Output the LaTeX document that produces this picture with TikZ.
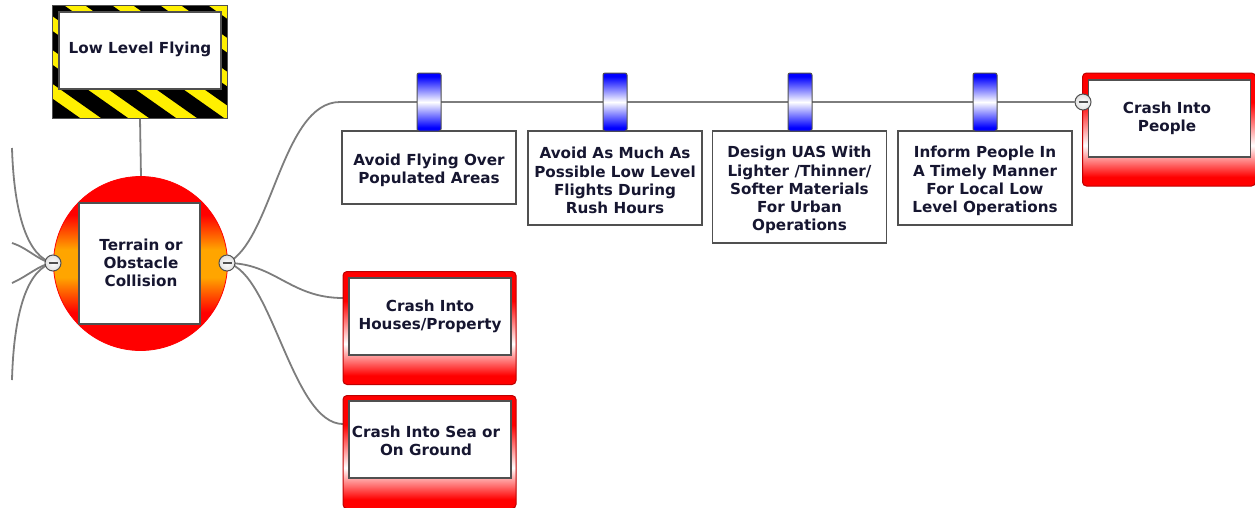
\documentclass[tikz,border=0pt]{standalone}
\usepackage{fontspec}
\setmainfont{DejaVu Sans}
\definecolor{ink}{RGB}{22,22,48}
\definecolor{wire}{RGB}{125,125,125}
\definecolor{rim}{RGB}{80,80,80}
\definecolor{hazyellow}{RGB}{255,240,0}
\definecolor{deepred}{RGB}{190,0,0}
\definecolor{amber}{RGB}{255,165,0}
\pgfdeclareverticalshading{redcard}{100bp}{color(0bp)=(red); color(29bp)=(red); color(43bp)=(white); color(62bp)=(red); color(100bp)=(red)}
\pgfdeclareverticalshading{hubdisc}{100bp}{color(0bp)=(red); color(36bp)=(red); color(46bp)=(amber); color(54bp)=(amber); color(64bp)=(red); color(100bp)=(red)}
\pgfdeclareverticalshading{bluetab}{100bp}{color(0bp)=(blue); color(28bp)=(blue); color(50bp)=(white); color(72bp)=(blue); color(100bp)=(blue)}
\tikzset{
  txt/.style={font=\bfseries\fontsize{15.2}{18.2}\selectfont, text=ink, align=center},
  link/.style={draw=wire, line width=1.8pt},
  plainbox/.style={draw=rim, line width=1.2pt, fill=white, inner sep=0pt, minimum width=174pt},
  cardout/.style={draw=deepred, line width=1pt, rounded corners=4pt, shading=redcard, inner sep=0pt, minimum width=173pt, minimum height=113pt},
  cardin/.style={draw=rim, line width=1.1pt, fill=white, inner sep=0pt, minimum width=162pt, minimum height=77pt},
  tab/.style={draw=rim, line width=1pt, rounded corners=2pt, shading=bluetab, inner sep=0pt, minimum width=24pt, minimum height=58pt},
  toggle/.style={circle, draw=rim, line width=1pt, inner color=white, outer color=black!12, minimum size=16pt, inner sep=0pt,
    path picture={\draw[rim, line width=1.3pt] ([xshift=-4.5pt]path picture bounding box.center) -- ([xshift=4.5pt]path picture bounding box.center);}},
}
\begin{document}
\begin{tikzpicture}[x=1pt,y=-1pt]
\useasboundingbox (0,0) rectangle (1255,507);

% hazard-striped title sign
\node[draw=rim, line width=1pt, minimum width=174pt, minimum height=112pt, inner sep=0pt] (sign) at (140,62) {};
\begin{scope}
  \clip (sign.south west) rectangle (sign.north east);
  \fill[hazyellow] (sign.south west) rectangle (sign.north east);
  \foreach \k in {-5,...,3}{
    \fill[black] (86+48*\k,6) -- (113+48*\k,6) -- (113+48*\k+159,118) -- (86+48*\k+159,118) -- cycle;
  }
\end{scope}
\draw[rim, line width=1pt] (sign.south west) rectangle (sign.north east);
\node[plainbox, minimum width=162pt, minimum height=77pt] (signface) at (140,50.5) {};
\node[txt] (signtext) at (140,49.5) {Low Level Flying};

% central hazard
\coordinate (hubtop) at (141,177);
\draw[link] (sign.south) -- (hubtop);

% free ends of the branches leaving the picture on the left
\coordinate (l1) at (12,148);
\coordinate (l2) at (12,243);
\coordinate (l3) at (12,283);
\coordinate (l4) at (12,380);
\coordinate (bLc) at (53,263);
\coordinate (bRc) at (227,263);
\draw[link] (l1) .. controls (14,215) and (28,257) .. (bLc);
\draw[link] (l2) .. controls (28,248) and (40,262) .. (bLc);
\draw[link] (l3) .. controls (28,276) and (40,264) .. (bLc);
\draw[link] (l4) .. controls (14,305) and (30,268) .. (bLc);

% right-hand branches
\coordinate (bend) at (340,102);
\draw[link] (bRc) .. controls (272,242) and (282,102) .. (bend);
\draw[link] (bRc) .. controls (275,263) and (290,298) .. (343,298);
\draw[link] (bRc) .. controls (272,272) and (292,424) .. (343,424);

\node[circle, draw=red, line width=0.8pt, shading=hubdisc, minimum size=174pt, inner sep=0pt] (hub) at (140.5,263.5) {};
\node[plainbox, minimum width=121pt, minimum height=121pt] (hubface) at (139.5,263.5) {};
\node[txt] (hubtext) at (141,263) {Terrain or\\Obstacle\\Collision};

% mitigation boxes
\node[plainbox, minimum height=73pt] (m1) at (429,167.5) {};
\node[txt] (m1t) at (429,170) {Avoid Flying Over\\Populated Areas};
\node[plainbox, minimum height=94pt] (m2) at (615,178) {};
\node[txt] (m2t) at (615,180.5) {Avoid As Much As\\Possible Low Level\\Flights During\\Rush Hours};
\node[plainbox, minimum height=112pt] (m3) at (799.5,187) {};
\node[txt] (m3t) at (799.5,190) {Design UAS With\\Lighter /Thinner/\\Softer Materials\\For Urban\\Operations};
\node[plainbox, minimum height=94pt] (m4) at (985,178) {};
\node[txt] (m4t) at (985,181) {Inform People In\\A Timely Manner\\For Local Low\\Level Operations};

% consequences
\node[cardout] (c1o) at (1169,129.5) {};
\node[cardin] (c1i) at (1169.5,118.5) {};
\node[txt] (c1t) at (1167,118.5) {Crash Into\\People};
\node[cardout] (c2o) at (429.5,328) {};
\node[cardin] (c2i) at (430,316.5) {};
\node[txt] (c2t) at (430,316) {Crash Into\\Houses/Property};
\node[cardout] (c3o) at (429.5,452) {};
\node[cardin] (c3i) at (430,439.5) {};
\node[txt] (c3t) at (426,440.5) {Crash Into Sea or\\On Ground};

% barrier line towards the consequence
\node[toggle] (bP) at (1083,102) {};
\draw[link] (bend) -- (bP.west);

% barrier tabs
\node[tab] (t1) at (429,102) {};
\node[tab] (t2) at (615,102) {};
\node[tab] (t3) at (800,102) {};
\node[tab] (t4) at (985,102) {};

% collapse toggles on the hub
\node[toggle] (bL) at (bLc) {};
\node[toggle] (bR) at (bRc) {};
\end{tikzpicture}
\end{document}
